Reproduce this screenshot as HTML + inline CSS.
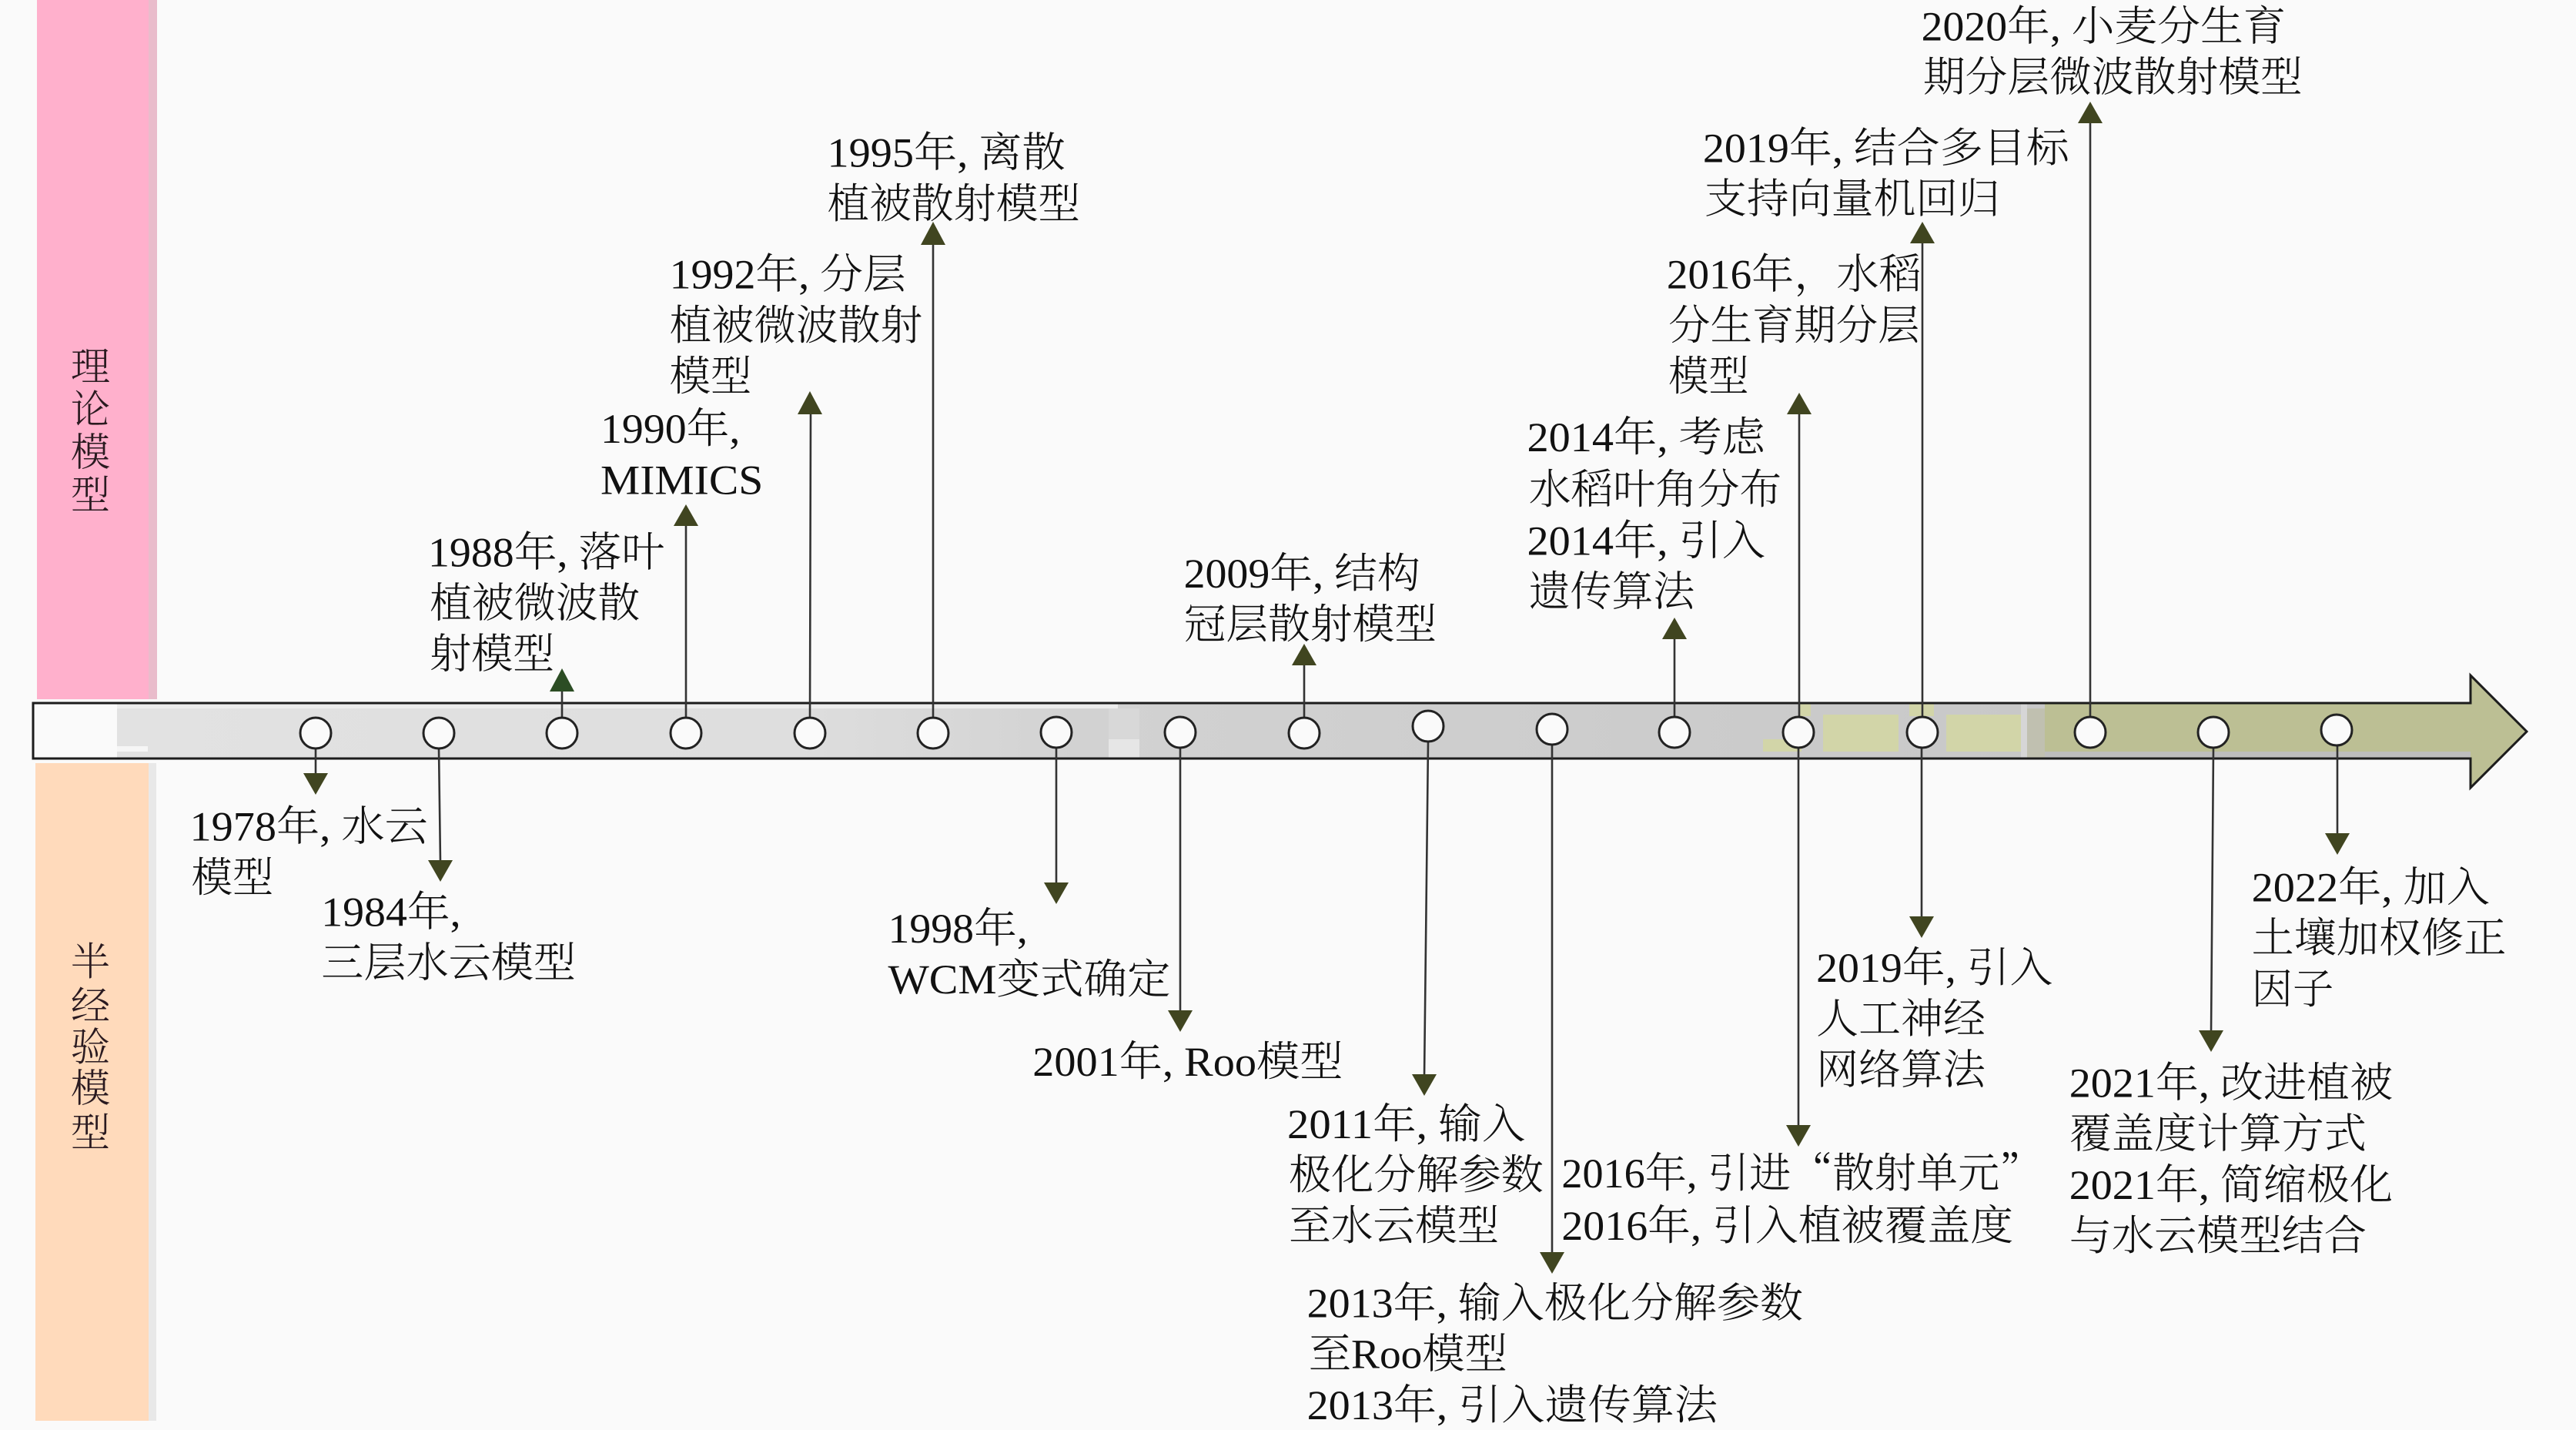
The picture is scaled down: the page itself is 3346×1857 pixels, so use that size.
<!DOCTYPE html>
<html><head><meta charset="utf-8">
<style>
html,body{margin:0;padding:0;background:#fafafa;}
svg{display:block;}
text{font-family:"Liberation Serif","Noto Serif CJK SC",serif;font-size:25.4px;fill:#111;font-weight:300;}
.v{font-size:24px;text-anchor:middle;fill:#2a1a20;}
.q{font-family:"Noto Serif CJK SC",serif;}
</style></head>
<body>
<svg xmlns="http://www.w3.org/2000/svg" width="3346" height="1857" viewBox="0 0 3346 1857">
<defs>
<linearGradient id="g" x1="152" x2="2660" y1="0" y2="0" gradientUnits="userSpaceOnUse">
<stop offset="0" stop-color="#e2e2e2"/><stop offset="0.35" stop-color="#dedede"/><stop offset="0.5" stop-color="#d2d2d2"/><stop offset="0.8" stop-color="#cccccc"/><stop offset="1" stop-color="#c8c8c8"/>
</linearGradient>
</defs>
<rect width="3346" height="1857" fill="#fafafa"/>
<!-- side bands -->
<rect x="48" y="0" width="145" height="908" fill="#ffb0cc"/>
<rect x="193" y="0" width="11" height="908" fill="#e9bccb"/>
<rect x="46" y="991" width="147" height="854" fill="#ffdabb"/>
<rect x="193" y="991" width="10" height="854" fill="#e8e8e8"/>
<!-- main arrow -->
<path d="M43,913H3209V877L3282,950L3209,1023V985H43Z" fill="#fafafa"/>
<rect x="152" y="914" width="2510" height="70" fill="url(#g)"/>
<rect x="152" y="914" width="1300" height="6" fill="#ececec"/>
<rect x="152" y="969" width="40" height="7" fill="#f6f6f6"/>
<rect x="1440" y="920" width="40" height="50" fill="#d8d8d8"/>
<rect x="1440" y="960" width="40" height="24" fill="#e6e6e6"/>
<rect x="2368" y="928" width="98" height="48" fill="#d2d5a8"/>
<rect x="2528" y="928" width="97" height="48" fill="#d2d5a8"/>
<rect x="2625" y="914" width="8" height="70" fill="#d6d6d6"/>
<rect x="2290" y="960" width="50" height="16" fill="#d2d5a8"/>
<rect x="2338" y="914" width="14" height="16" fill="#d2d5a8"/>
<rect x="2480" y="914" width="32" height="16" fill="#d2d5a8"/>
<rect x="2656" y="914" width="553" height="62" fill="#bcbf94"/>
<rect x="2640" y="976" width="569" height="9" fill="#bdbdbd"/>
<rect x="2633" y="920" width="23" height="64" fill="#c0c0b0"/>
<path d="M3209,877L3282,950L3209,1023Z" fill="#bcbf94"/>
<rect x="3200" y="914" width="12" height="62" fill="#bcbf94"/>
<path d="M43,913H3209V877L3282,950L3209,1023V985H43Z" fill="none" stroke="#1c1c1c" stroke-width="3"/>
<!-- connectors -->
<g stroke="#333" stroke-width="2.6" fill="none">
<path d="M410,972V1010M570,972L572,1120M730,932V895M891,932V680M1052,932L1053,535M1212,932V315M1372,972V1150M1533,972V1316M1694,932V862M1855,963L1850,1400M2016,967V1630M2175,931V830M2337,931V538M2336,971V1465M2497,931V316M2496,971V1195M2715,931V160M2875,971L2872,1342M3036,968V1087"/>
</g>
<!-- arrowheads -->
<g fill="#404520">
<path d="M394,1004H426L410,1032Z"/>
<path d="M556,1117H588L572,1145Z"/>
<path d="M714,898H746L730,868Z" fill="#2c4d24"/>
<path d="M875,683H907L891,655Z"/>
<path d="M1036,538H1068L1052,508Z"/>
<path d="M1196,318H1228L1212,288Z"/>
<path d="M1356,1146H1388L1372,1174Z"/>
<path d="M1517,1312H1549L1533,1340Z"/>
<path d="M1678,864H1710L1694,836Z"/>
<path d="M1834,1395H1866L1850,1423Z"/>
<path d="M2000,1626H2032L2016,1654Z"/>
<path d="M2159,830H2191L2175,802Z"/>
<path d="M2321,538H2353L2337,510Z"/>
<path d="M2320,1461H2352L2336,1489Z"/>
<path d="M2481,316H2513L2497,288Z"/>
<path d="M2480,1190H2512L2496,1218Z"/>
<path d="M2699,160H2731L2715,132Z"/>
<path d="M2856,1338H2888L2872,1366Z"/>
<path d="M3020,1082H3052L3036,1110Z"/>
</g>
<!-- nodes -->
<g fill="#fafafa" stroke="#222" stroke-width="3">
<circle cx="410" cy="952" r="20"/><circle cx="570" cy="952" r="20"/><circle cx="730" cy="952" r="20"/><circle cx="891" cy="952" r="20"/><circle cx="1052" cy="952" r="20"/><circle cx="1212" cy="952" r="20"/><circle cx="1372" cy="951" r="20"/><circle cx="1533" cy="951" r="20"/><circle cx="1694" cy="952" r="20"/><circle cx="1855" cy="943" r="20"/><circle cx="2016" cy="947" r="20"/><circle cx="2175" cy="951" r="20"/><circle cx="2336" cy="951" r="20"/><circle cx="2497" cy="951" r="20"/><circle cx="2715" cy="951" r="20"/><circle cx="2875" cy="951" r="20"/><circle cx="3035" cy="948" r="20"/>
</g>
<!-- labels -->
<g transform="translate(-1,1.2) scale(2.13393)">
<text class="v" x="55.5" y="231">理</text><text class="v" x="55.5" y="257">论</text><text class="v" x="55.5" y="283">模</text><text class="v" x="55.5" y="309">型</text>
<text class="v" x="55.5" y="593">半</text><text class="v" x="55.5" y="620">经</text><text class="v" x="55.5" y="645">验</text><text class="v" x="55.5" y="670">模</text><text class="v" x="55.5" y="697">型</text>

<text x="1170" y="24" textLength="222" lengthAdjust="spacingAndGlyphs">2020年, 小麦分生育</text>
<text x="1171" y="55" textLength="231" lengthAdjust="spacingAndGlyphs">期分层微波散射模型</text>
<text x="1037" y="98" textLength="223" lengthAdjust="spacingAndGlyphs">2019年, 结合多目标</text>
<text x="1038" y="129" textLength="180" lengthAdjust="spacingAndGlyphs">支持向量机回归</text>
<text x="504" y="101" textLength="145" lengthAdjust="spacingAndGlyphs">1995年, 离散</text>
<text x="504" y="132" textLength="154" lengthAdjust="spacingAndGlyphs">植被散射模型</text>
<text x="408" y="175" textLength="144" lengthAdjust="spacingAndGlyphs">1992年, 分层</text>
<text x="408" y="206" textLength="154" lengthAdjust="spacingAndGlyphs">植被微波散射</text>
<text x="408" y="237" textLength="50" lengthAdjust="spacingAndGlyphs">模型</text>
<text x="1015" y="175" textLength="155" lengthAdjust="spacingAndGlyphs"><tspan>2016年</tspan><tspan class="q">，</tspan><tspan>水稻</tspan></text>
<text x="1016" y="206" textLength="153" lengthAdjust="spacingAndGlyphs">分生育期分层</text>
<text x="1016" y="237" textLength="49" lengthAdjust="spacingAndGlyphs">模型</text>
<text x="366" y="269" textLength="85" lengthAdjust="spacingAndGlyphs">1990年,</text>
<text x="366" y="300" textLength="99" lengthAdjust="spacingAndGlyphs">MIMICS</text>
<text x="930" y="274" textLength="145" lengthAdjust="spacingAndGlyphs">2014年, 考虑</text>
<text x="931" y="306" textLength="154" lengthAdjust="spacingAndGlyphs">水稻叶角分布</text>
<text x="930" y="337" textLength="145" lengthAdjust="spacingAndGlyphs">2014年, 引入</text>
<text x="931" y="368" textLength="101" lengthAdjust="spacingAndGlyphs">遗传算法</text>
<text x="261" y="344" textLength="144" lengthAdjust="spacingAndGlyphs">1988年, 落叶</text>
<text x="262" y="375" textLength="128" lengthAdjust="spacingAndGlyphs">植被微波散</text>
<text x="262" y="406" textLength="76" lengthAdjust="spacingAndGlyphs">射模型</text>
<text x="721" y="357" textLength="144" lengthAdjust="spacingAndGlyphs">2009年, 结构</text>
<text x="721" y="388" textLength="154" lengthAdjust="spacingAndGlyphs">冠层散射模型</text>
<text x="116" y="511" textLength="145" lengthAdjust="spacingAndGlyphs">1978年, 水云</text>
<text x="117" y="542" textLength="50" lengthAdjust="spacingAndGlyphs">模型</text>
<text x="196" y="563" textLength="85" lengthAdjust="spacingAndGlyphs">1984年,</text>
<text x="196" y="594" textLength="155" lengthAdjust="spacingAndGlyphs">三层水云模型</text>
<text x="541" y="573" textLength="85" lengthAdjust="spacingAndGlyphs">1998年,</text>
<text x="541" y="604" textLength="172" lengthAdjust="spacingAndGlyphs">WCM变式确定</text>
<text x="629" y="654" textLength="189" lengthAdjust="spacingAndGlyphs">2001年, Roo模型</text>
<text x="784" y="692" textLength="145" lengthAdjust="spacingAndGlyphs">2011年, 输入</text>
<text x="785" y="723" textLength="155" lengthAdjust="spacingAndGlyphs">极化分解参数</text>
<text x="785" y="754" textLength="128" lengthAdjust="spacingAndGlyphs">至水云模型</text>
<text x="951" y="722" textLength="292" lengthAdjust="spacingAndGlyphs"><tspan>2016年, 引进</tspan><tspan class="q">“</tspan><tspan>散射单元</tspan><tspan class="q">”</tspan></text>
<text x="951" y="754" textLength="275" lengthAdjust="spacingAndGlyphs">2016年, 引入植被覆盖度</text>
<text x="796" y="801" textLength="302" lengthAdjust="spacingAndGlyphs">2013年, 输入极化分解参数</text>
<text x="797" y="832" textLength="121" lengthAdjust="spacingAndGlyphs">至Roo模型</text>
<text x="796" y="863" textLength="250" lengthAdjust="spacingAndGlyphs">2013年, 引入遗传算法</text>
<text x="1106" y="597" textLength="144" lengthAdjust="spacingAndGlyphs">2019年, 引入</text>
<text x="1106" y="628" textLength="103" lengthAdjust="spacingAndGlyphs">人工神经</text>
<text x="1106" y="659" textLength="103" lengthAdjust="spacingAndGlyphs">网络算法</text>
<text x="1260" y="667" textLength="197" lengthAdjust="spacingAndGlyphs">2021年, 改进植被</text>
<text x="1260" y="698" textLength="181" lengthAdjust="spacingAndGlyphs">覆盖度计算方式</text>
<text x="1260" y="729" textLength="197" lengthAdjust="spacingAndGlyphs">2021年, 简缩极化</text>
<text x="1260" y="760" textLength="181" lengthAdjust="spacingAndGlyphs">与水云模型结合</text>
<text x="1371" y="548" textLength="145" lengthAdjust="spacingAndGlyphs">2022年, 加入</text>
<text x="1371" y="579" textLength="155" lengthAdjust="spacingAndGlyphs">土壤加权修正</text>
<text x="1371" y="610" textLength="50" lengthAdjust="spacingAndGlyphs">因子</text>
</g>
</svg>
</body></html>
